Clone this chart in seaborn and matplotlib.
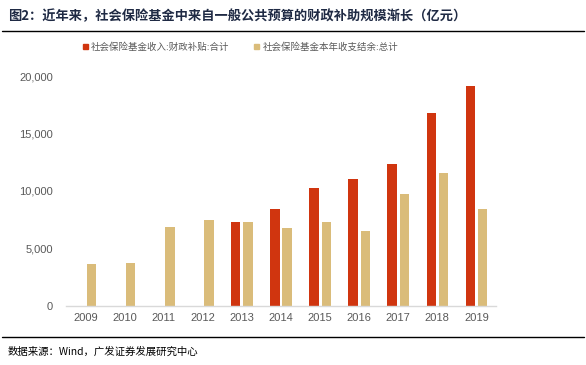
import numpy as np
import pandas as pd
import matplotlib.pyplot as plt
import matplotlib.lines as mlines
from matplotlib.ticker import FuncFormatter
import seaborn as sns

years = ["2009", "2010", "2011", "2012", "2013", "2014", "2015", "2016", "2017", "2018", "2019"]
subsidy = [np.nan, np.nan, np.nan, np.nan, 7330, 8440, 10290, 11070, 12320, 16780, 19130]   # 社会保险基金收入:财政补贴:合计
balance = [3630, 3770, 6900, 7480, 7280, 6750, 7280, 6550, 9770, 11600, 8440]              # 社会保险基金本年收支结余:总计
series_names = ["社会保险基金收入:财政补贴:合计", "社会保险基金本年收支结余:总计"]
colors = ["#D0350F", "#DABC7A"]

df = pd.DataFrame({"year": years * 2,
                   "value": subsidy + balance,
                   "series": [series_names[0]] * len(years) + [series_names[1]] * len(years)})

sns.set_style("white")
plt.rcParams["font.family"] = ["Noto Sans CJK SC", "DejaVu Sans"]

fig = plt.figure(figsize=(5.86, 3.65), dpi=100)
ax = fig.add_axes([66 / 586, 1 - 306 / 365, 430 / 586, 230 / 365])

sns.barplot(data=df, x="year", y="value", hue="series", palette=colors, saturation=1,
            width=0.63, gap=0.24, ax=ax, legend=False, linewidth=0)

ax.set_xlim(-0.5, 10.5)
ax.set_ylim(0, 20000)
ax.set_yticks([0, 5000, 10000, 15000, 20000])
ax.yaxis.set_major_formatter(FuncFormatter(lambda v, p: f"{int(v):,}"))
ax.set_xlabel("")
ax.set_ylabel("")
for s in ["top", "right", "left"]:
    ax.spines[s].set_visible(False)
ax.spines["bottom"].set_color("#D9D9D9")
ax.spines["bottom"].set_linewidth(1)
ax.tick_params(axis="both", length=0, labelsize=8, labelcolor="#595959")
ax.tick_params(axis="y", pad=9.5)
ax.tick_params(axis="x", pad=5)
for lab in ax.get_xticklabels() + ax.get_yticklabels():
    lab.set_fontfamily(["Liberation Sans", "DejaVu Sans"])

# legend
handles = [plt.Rectangle((0, 0), 1, 1, color=c) for c in colors]
fig.legend(handles, series_names, loc="center left", bbox_to_anchor=(74 / 586, 1 - 47 / 365),
           ncol=2, frameon=False, fontsize=6.8, labelcolor="#595959", handlelength=0.55,
           handleheight=0.55, handletextpad=0.35, columnspacing=2.6)

# title and source
fig.text(8 / 586, 1 - 16 / 365, "图2：近年来，社会保险基金中来自一般公共预算的财政补助规模渐长（亿元）",
         fontsize=9.5, fontweight="bold", color="#1F2A44", va="center", ha="left")
fig.text(8 / 586, 1 - 352 / 365, "数据来源：Wind，广发证券发展研究中心",
         fontsize=7.5, color="black", va="center", ha="left")
fig.add_artist(mlines.Line2D([2 / 586, 584 / 586], [1 - 30.5 / 365] * 2, color="black", lw=1))
fig.add_artist(mlines.Line2D([2 / 586, 584 / 586], [1 - 337 / 365] * 2, color="black", lw=1))

fig.savefig("out.png", dpi=100)
